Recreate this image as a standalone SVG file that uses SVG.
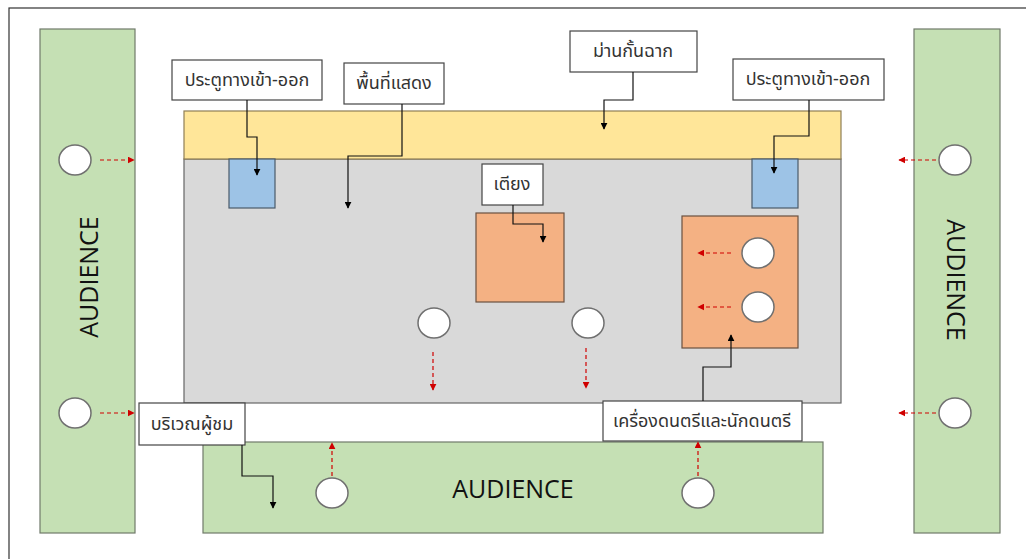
<svg xmlns="http://www.w3.org/2000/svg" width="1026" height="559" viewBox="0 0 1026 559">
<defs>
<marker id="ab" viewBox="0 0 10 10" refX="9" refY="5" markerWidth="7" markerHeight="7" markerUnits="userSpaceOnUse" orient="auto"><path d="M0,0 L10,5 L0,10 z" fill="#000"/></marker>
<marker id="ar" viewBox="0 0 10 10" refX="9" refY="5" markerWidth="7" markerHeight="7" markerUnits="userSpaceOnUse" orient="auto"><path d="M0,0 L10,5 L0,10 z" fill="#d00000"/></marker>
<style>
.aud{fill:#c5e0b4;stroke:#707a6a;stroke-width:1.2}
.cur{fill:#ffe699;stroke:#8f7f55;stroke-width:1.2}
.stage{fill:#d9d9d9;stroke:#666;stroke-width:1.2}
.door{fill:#9dc3e6;stroke:#4a5a6a;stroke-width:1.2}
.org{fill:#f4b183;stroke:#6a5040;stroke-width:1.2}
.p{fill:#fff;stroke:#707070;stroke-width:1.5}
.lbl{fill:#fff;stroke:#444;stroke-width:1.2}
.lt{font-family:"Noto Sans Thai","Noto Sans","DejaVu Sans",sans-serif;font-size:18px;fill:#333;text-anchor:middle;dominant-baseline:central}
.at{font-family:"Open Sans","Liberation Sans",sans-serif;font-size:25px;fill:#111;text-anchor:middle;dominant-baseline:central}
.c{fill:none;stroke:#111;stroke-width:1.2;marker-end:url(#ab)}
.r{fill:none;stroke:#d00000;stroke-width:1.2;stroke-dasharray:4 3;marker-end:url(#ar)}
</style>
</defs>
<rect x="0" y="0" width="1026" height="559" fill="#fff"/>
<rect x="9" y="8" width="1030" height="570" fill="none" stroke="#333" stroke-width="1.2"/>

<g id="audience-left"><rect class="aud" x="40" y="29" width="95" height="504"/><text class="at" transform="translate(88,277) rotate(-90)" font-size="27">AUDIENCE</text></g>
<g id="audience-right"><rect class="aud" x="914" y="29" width="86" height="504"/><text class="at" transform="translate(957,280) rotate(90)" font-size="27">AUDIENCE</text></g>
<g id="audience-bottom"><rect class="aud" x="203" y="442" width="620" height="91"/><text class="at" x="513" y="488">AUDIENCE</text></g>
<g id="stage"><rect class="stage" x="184" y="159" width="657" height="244"/></g>
<g id="curtain"><rect class="cur" x="184" y="111" width="657" height="48"/></g>
<g id="door-left"><rect class="door" x="229" y="159" width="46" height="49"/></g>
<g id="door-right"><rect class="door" x="752" y="159" width="46" height="49"/></g>
<g id="bed"><rect class="org" x="476" y="213" width="88" height="89"/></g>
<g id="musicians"><rect class="org" x="682" y="216" width="116" height="132"/></g>

<g id="people">
<ellipse class="p" cx="75" cy="160" rx="16" ry="15"/>
<ellipse class="p" cx="75" cy="413" rx="16" ry="15"/>
<ellipse class="p" cx="955" cy="160" rx="16" ry="15"/>
<ellipse class="p" cx="955" cy="413" rx="16" ry="15"/>
<ellipse class="p" cx="758" cy="253" rx="16" ry="15"/>
<ellipse class="p" cx="758" cy="307" rx="16" ry="15"/>
<ellipse class="p" cx="434" cy="323" rx="16" ry="15"/>
<ellipse class="p" cx="588" cy="323" rx="16" ry="15"/>
<ellipse class="p" cx="332" cy="493" rx="16" ry="15"/>
<ellipse class="p" cx="698" cy="493" rx="16" ry="15"/>
</g>

<g id="label-door-left"><rect class="lbl" x="172" y="60" width="150" height="40"/><text class="lt" x="247" y="80">ประตูทางเข้า-ออก</text></g>
<g id="label-stage"><rect class="lbl" x="344" y="63" width="100" height="41"/><text class="lt" x="394" y="83">พื้นที่แสดง</text></g>
<g id="label-curtain"><rect class="lbl" x="570" y="31" width="127" height="41"/><text class="lt" x="633" y="51">ม่านกั้นฉาก</text></g>
<g id="label-door-right"><rect class="lbl" x="733" y="59" width="151" height="41"/><text class="lt" x="808" y="79">ประตูทางเข้า-ออก</text></g>
<g id="label-bed"><rect class="lbl" x="482" y="164" width="61" height="41"/><text class="lt" x="512" y="184">เตียง</text></g>
<g id="label-audience"><rect class="lbl" x="139" y="403" width="106" height="42"/><text class="lt" x="192" y="424">บริเวณผู้ชม</text></g>
<g id="label-musicians"><rect class="lbl" x="603" y="401" width="199" height="40"/><text class="lt" x="702" y="421">เครื่องดนตรีและนักดนตรี</text></g>

<g id="connectors">
<path class="c" d="M247,100 V137 H257 V175"/>
<path class="c" d="M402,104 V156 H348 V208"/>
<path class="c" d="M633,72 V100 H604 V129"/>
<path class="c" d="M809,100 V136 H774 V173"/>
<path class="c" d="M513,205 V224 H543 V242"/>
<path class="c" d="M703,401 V367 H731 V335"/>
<path class="c" d="M242,445 V476 H273 V508"/>
<path class="r" d="M100,160 H134"/>
<path class="r" d="M100,413 H134"/>
<path class="r" d="M936,160 H899"/>
<path class="r" d="M936,413 H899"/>
<path class="r" d="M731,253 H698"/>
<path class="r" d="M731,307 H698"/>
<path class="r" d="M433,352 V390"/>
<path class="r" d="M586,348 V388"/>
<path class="r" d="M332,476 V443"/>
<path class="r" d="M698,476 V442"/>
</g>
</svg>
